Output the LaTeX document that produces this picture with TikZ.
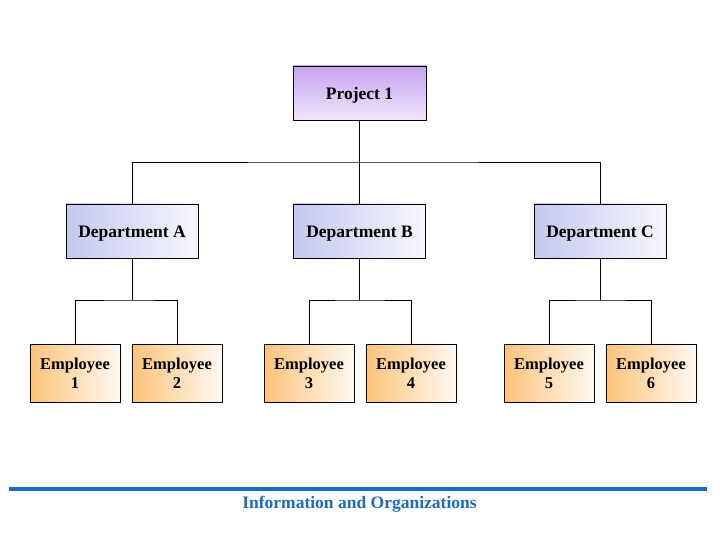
\documentclass[tikz,border=0pt]{standalone}
\usepackage{fontspec}
\setmainfont{Liberation Serif}
\definecolor{projtop}{HTML}{C6A2F2}
\definecolor{projbot}{HTML}{F0E6FC}
\definecolor{depl}{HTML}{C4C8EE}
\definecolor{depr}{HTML}{F6F6FD}
\definecolor{empl}{HTML}{FCC37A}
\definecolor{empr}{HTML}{FFF8F0}
\definecolor{rulebl}{HTML}{1A6CC2}
\begin{document}
\begin{tikzpicture}[x=1pt,y=-1pt,
  box/.style={draw=black, line width=0.8pt, inner sep=0pt, align=center},
  projbox/.style={box, font=\bfseries\fontsize{17.5}{19}\selectfont, text height=14pt, text depth=0.5pt, minimum width=133pt, minimum height=54pt, top color=projtop, bottom color=projbot},
  depbox/.style={box, font=\bfseries\fontsize{17.5}{19}\selectfont, text height=14pt, text depth=0.5pt, minimum width=132pt, minimum height=54pt, left color=depl, right color=depr},
  empbox/.style={box, font=\bfseries\fontsize{16.5}{19}\selectfont, minimum width=90pt, minimum height=58pt, left color=empl, right color=empr},
  conn/.style={draw=black, line width=0.8pt}]
\useasboundingbox (0,0) rectangle (720,540);
\node[projbox] (p) at (359.5,93) {Project 1};
\node[depbox] (da) at (132,231) {Department A};
\node[depbox] (db) at (359.5,231) {Department B};
\node[depbox] (dc) at (600,231) {Department C};
\node[empbox] (e1) at (75,373) {Employee\\1};
\node[empbox] (e2) at (177,373) {Employee\\2};
\node[empbox] (e3) at (309,373) {Employee\\3};
\node[empbox] (e4) at (411,373) {Employee\\4};
\node[empbox] (e5) at (549,373) {Employee\\5};
\node[empbox] (e6) at (651,373) {Employee\\6};
% connectors
\coordinate (jp) at (359.5,162);
\draw[conn] (p.south) -- (jp);
\draw[conn] (da.north) |- (jp) -| (dc.north);
\draw[conn] (jp) -- (db.north);
\coordinate (ja) at (132,300);
\coordinate (jb) at (359.5,300);
\coordinate (jc) at (600,300);
\draw[conn] (da.south) -- (ja);
\draw[conn] (e1.north) |- (ja) -| (e2.north);
\draw[conn] (db.south) -- (jb);
\draw[conn] (e3.north) |- (jb) -| (e4.north);
\draw[conn] (dc.south) -- (jc);
\draw[conn] (e5.north) |- (jc) -| (e6.north);
% footer
\coordinate (r1) at (9,489);
\coordinate (r2) at (707,489);
\draw[rulebl, line width=4pt] (r1) -- (r2);
\node[text=rulebl, font=\bfseries\fontsize{17.5}{19}\selectfont] (ft) at (359.5,504.5) {Information and Organizations};
\end{tikzpicture}
\end{document}
